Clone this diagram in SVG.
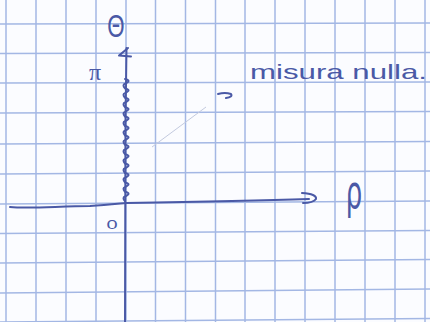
<svg xmlns="http://www.w3.org/2000/svg" width="430" height="322" viewBox="0 0 430 322">
<style>
.grid line{stroke:#a3b7e4;stroke-width:1.5}
.ink{fill:none;stroke:#4a59a6;stroke-width:2;stroke-linecap:round;stroke-linejoin:round}
.lbl{fill:#4a59a6;font-family:"Liberation Sans",Arial,sans-serif}
</style>
<rect width="430" height="322" fill="#fbfcff"/>
<g id="grid" class="grid">
<line x1="6" y1="0" x2="6" y2="322"/>
<line x1="36" y1="0" x2="36" y2="322"/>
<line x1="66" y1="0" x2="66" y2="322"/>
<line x1="96" y1="0" x2="96" y2="322"/>
<line x1="126" y1="0" x2="126" y2="322"/>
<line x1="155.5" y1="0" x2="155.5" y2="322"/>
<line x1="185.5" y1="0" x2="185.5" y2="322"/>
<line x1="215.5" y1="0" x2="215.5" y2="322"/>
<line x1="245" y1="0" x2="245" y2="322"/>
<line x1="275" y1="0" x2="275" y2="322"/>
<line x1="305" y1="0" x2="305" y2="322"/>
<line x1="335" y1="0" x2="335" y2="322"/>
<line x1="365" y1="0" x2="365" y2="322"/>
<line x1="395" y1="0" x2="395" y2="322"/>
<line x1="425" y1="0" x2="425" y2="322"/>
<line x1="0" y1="24" x2="430" y2="23"/>
<line x1="0" y1="53.5" x2="430" y2="52.5"/>
<line x1="0" y1="83" x2="430" y2="82"/>
<line x1="0" y1="113" x2="430" y2="111.5"/>
<line x1="0" y1="144" x2="430" y2="141.5"/>
<line x1="0" y1="174" x2="430" y2="171"/>
<line x1="0" y1="204" x2="430" y2="201"/>
<line x1="0" y1="233.5" x2="430" y2="230.5"/>
<line x1="0" y1="263" x2="430" y2="259.5"/>
<line x1="0" y1="293" x2="430" y2="289"/>
<line x1="0" y1="322" x2="430" y2="318.5"/>
</g>
<g id="connectors">
<path class="ink" d="M126.5,48 L125.5,120 L125,322"/>
<path class="ink" d="M128,48 L119,55.5 L131,56.5"/>
<path class="ink" d="M10,207 C30,209 60,206 90,206 C105,205 115,204 126,203 C190,202 250,201 309,199"/>
<path class="ink" d="M302,193 Q317,194 316,199 Q313,203 303,203"/>
<path class="ink" stroke-width="2.4" d="M125,79 q7,1.5 0,4.7 q-3,1 0,4.7 q7,1.5 0,4.7 q-3,1 0,4.7 q7,1.5 0,4.7 q-3,1 0,4.7 q7,1.5 0,4.7 q-3,1 0,4.7 q7,1.5 0,4.7 q-3,1 0,4.7 q7,1.5 0,4.7 q-3,1 0,4.7 q7,1.5 0,4.7 q-3,1 0,4.7 q7,1.5 0,4.7 q-3,1 0,4.7 q7,1.5 0,4.7 q-3,1 0,4.7 q7,1.5 0,4.7 q-3,1 0,4.7 q7,1.5 0,4.7 q-3,1 0,4.7 q7,1.5 0,4.7 q-3,1 0,4.7 q7,1.5 0,4.7 q-3,1 0,4.7"/>
<path fill="none" stroke="#c3cadf" stroke-width="1" d="M152,147 L206,107"/>
<path class="ink" stroke-width="1.4" d="M218,94 Q225,92 231,94 Q233,97 226,98"/>
</g>
<g id="label-theta"><text class="lbl" x="0" y="0" font-size="31" text-anchor="middle" transform="translate(116,37) scale(0.72,1)">Θ</text></g>
<g id="label-pi"><text class="lbl" x="95" y="80" font-size="24" text-anchor="middle" style="font-family:'Liberation Serif',serif">π</text></g>
<g id="label-note"><text class="lbl" x="250" y="79" font-size="21" textLength="177" lengthAdjust="spacingAndGlyphs">misura nulla.</text></g>
<g id="label-origin"><text class="lbl" x="0" y="0" font-size="16" text-anchor="middle" transform="translate(112,229) scale(1.25,0.85)">0</text></g>
<g id="label-rho"><text class="lbl" x="0" y="0" font-size="26" text-anchor="middle" transform="translate(354,208) scale(1,1.75)" style="font-family:'DejaVu Sans',sans-serif">ρ</text></g>
</svg>
